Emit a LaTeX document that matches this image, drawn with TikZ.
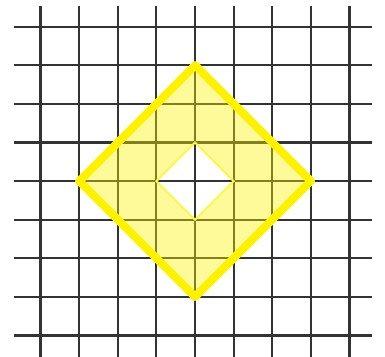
\documentclass[tikz,border=0pt]{standalone}
\begin{document}
\begin{tikzpicture}[scale=1.0,
    gridline/.style={line width=1.6pt,black!80},
    ringfill/.style={fill=yellow,fill opacity=0.4,even odd rule}]
    \useasboundingbox (-5.05,-4.53) rectangle (4.92,4.69);

    \foreach \x in {-4,...,4}
        \draw[gridline] (\x,4.53)--(\x,-4.7);
    \foreach \y in {-4,...,4}
        \draw[gridline] (-4.69,\y)--(4.59,\y);

    \coordinate (top) at (0,3);
    \coordinate (right) at (3,0);
    \coordinate (bot) at (0,-3);
    \coordinate (left) at (-3,0);
    \coordinate (itop) at (0,1);
    \coordinate (iright) at (1,0);
    \coordinate (ibot) at (0,-1);
    \coordinate (ileft) at (-1,0);

    \fill[ringfill] (top)--(right)--(bot)--(left)--cycle
        (itop)--(iright)--(ibot)--(ileft)--cycle;
    \draw[yellow,line width=6pt,line join=round] (top)--(right)--(bot)--(left)--cycle;
    \draw[yellow!70,line width=1.4pt] (itop)--(iright)--(ibot)--(ileft)--cycle;
\end{tikzpicture}
\end{document}
